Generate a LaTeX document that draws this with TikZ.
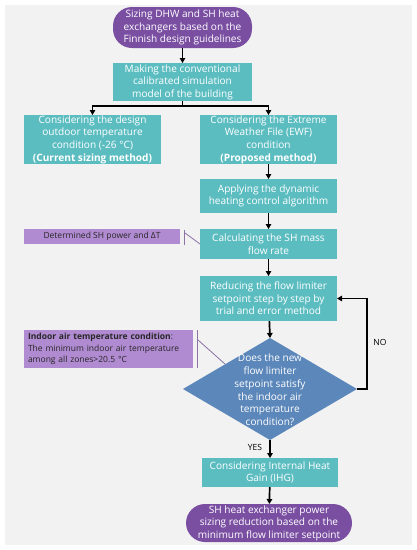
\documentclass[tikz,border=0pt]{standalone}
\usepackage{fontspec}
\setmainfont{Open Sans}
\usetikzlibrary{shapes.geometric,arrows.meta}
\definecolor{bgc}{HTML}{F2F2F2}
\definecolor{teal}{HTML}{5CBDC1}
\definecolor{purp}{HTML}{7A4FA2}
\definecolor{lpurp}{HTML}{B18BD1}
\definecolor{dblue}{HTML}{5C87BA}
\definecolor{callc}{HTML}{8C74A6}
\begin{document}
\begin{tikzpicture}[x=1pt,y=-1pt,
  every node/.style={inner sep=0pt, outer sep=0pt},
  proc/.style={fill=teal, text=white, align=center, font=\fontsize{10.1}{12.6}\selectfont},
  term/.style={fill=purp, text=white, align=center, rounded corners=19pt, font=\fontsize{10.1}{12.6}\selectfont},
  note/.style={fill=lpurp, text=black!85, align=left, anchor=north west, font=\fontsize{8.5}{11.6}\selectfont, inner xsep=4pt},
  dec/.style={diamond, fill=dblue},
  lbl/.style={font=\fontsize{8.5}{9}\selectfont, text=black},
  flow/.style={line width=1.7pt, -{Triangle[length=5pt,width=5.5pt]}},
  plain/.style={line width=1.7pt},
  call/.style={draw=callc, line width=0.8pt}]
\useasboundingbox (0,0) rectangle (417,550);
\fill[bgc] (5,5) rectangle (412,545);

\node[term, minimum width=139pt, minimum height=41pt] (start) at (182.5,27.5)
  {Sizing DHW and SH heat\\exchangers based on the\\Finnish design guidelines};
\node[proc, minimum width=139pt, minimum height=38pt] (model) at (182.5,82)
  {Making the conventional\\calibrated simulation\\model of the building};
\node[proc, minimum width=137pt, minimum height=49pt] (cur) at (92.5,139.5)
  {Considering the design\\outdoor temperature\\condition (-26 °C)\\\textbf{(Current sizing method)}};
\node[proc, minimum width=137pt, minimum height=49pt] (ewf) at (268.5,139.5)
  {Considering the Extreme\\Weather File (EWF)\\condition\\\textbf{(Proposed method)}};
\node[proc, minimum width=137pt, minimum height=34pt] (dyn) at (268.5,196)
  {Applying the dynamic\\heating control algorithm};
\node[proc, minimum width=137pt, minimum height=30pt] (calc) at (268.5,244)
  {Calculating the SH mass\\flow rate};
\node[proc, minimum width=137pt, minimum height=45pt] (red) at (268.5,298.5)
  {Reducing the flow limiter\\setpoint step by step by\\trial and error method};
\node[dec, minimum width=174pt, minimum height=102pt] (q) at (270,389) {};
\node[text=white, align=center, font=\fontsize{10.1}{12.8}\selectfont] (qt) at (270,390)
  {Does the new\\flow limiter\\setpoint satisfy\\the indoor air\\temperature\\condition?};
\node[proc, minimum width=136pt, minimum height=29pt] (ihg) at (270,472.5)
  {Considering Internal Heat\\Gain (IHG)};
\node[term, minimum width=166pt, minimum height=38pt] (end) at (269,523)
  {SH heat exchanger power\\sizing reduction based on the\\minimum flow limiter setpoint};

\node[note, minimum width=156pt, minimum height=15pt] (n1) at (24,229)
  {Determined SH power and ΔT};
\node[note, minimum width=169pt, minimum height=38pt, text width=161pt] (n2) at (24,330)
  {\textbf{Indoor air temperature condition}:\\The minimum indoor air temperature\\among all zones>20.5 °C};

\node[lbl] (no) at (380,342) {NO};
\node[lbl] (yes) at (255,447) {YES};

\coordinate (split) at (182.5,106);
\coordinate (loop) at (367,389);
\coordinate (b1t) at (184,229.5);
\coordinate (b1b) at (184,244.5);
\coordinate (b1m) at (185,233);
\coordinate (b2t) at (197,330);
\coordinate (b2b) at (197,368);
\coordinate (b2m) at (198,340);
\coordinate (b2e) at (225,364);

\draw[flow] (start) -- (model);
\draw[plain] (model.south) -- (split);
\draw[flow] (split) -| (cur.north);
\draw[flow] (split) -| (ewf.north);
\draw[flow] (ewf) -- (dyn);
\draw[flow] (dyn) -- (calc);
\draw[flow] (calc) -- (red);
\draw[flow] (red) -- (q.north);
\draw[flow] (q.south) -- (ihg);
\draw[flow] (ihg) -- (end);
\draw[flow] (q.east) -- (loop) |- (red.east);

\draw[call] (b1t) -- (b1b);
\draw[call] (b1m) -- (calc.west);
\draw[call] (b2t) -- (b2b);
\draw[call] (b2m) -- (b2e);
\end{tikzpicture}
\end{document}
